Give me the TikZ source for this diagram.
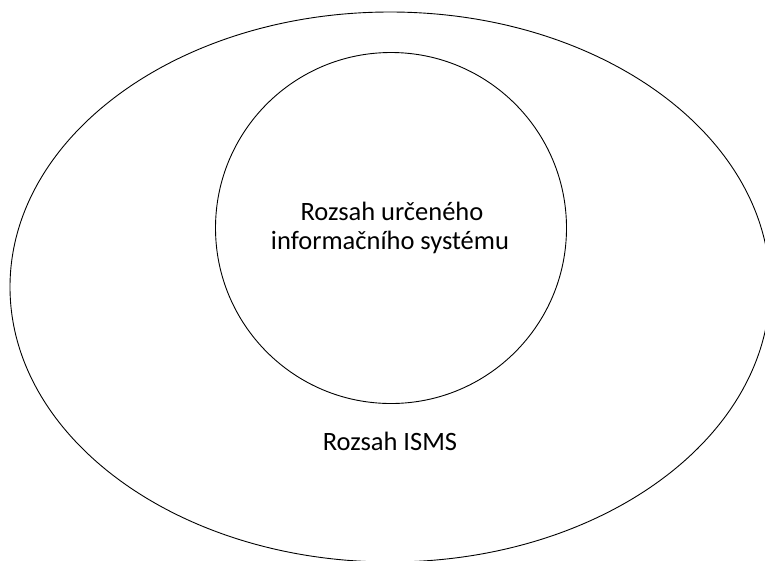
\documentclass[tikz,border=0pt]{standalone}
\usepackage{fontspec}
\setmainfont{Carlito}
\begin{document}
\begin{tikzpicture}[x=1pt,y=-1pt,
  shape line/.style={draw=black,line width=0.9pt},
  lbl/.style={font=\fontsize{26.5}{32}\selectfont,align=center,inner sep=0pt,anchor=base}]
\useasboundingbox (0,0) rectangle (765,560);
\clip (0,0) rectangle (765,560);
\fill[white] (0,0) rectangle (765,560);
\draw[shape line] (390,287) ellipse [x radius=380,y radius=275];
\draw[shape line] (391,228) circle [radius=175.5];
\node[lbl] (inner) at (392,220) {Rozsah určeného};
\node[lbl] (inner2) at (390,249) {informačního systému};
\node[lbl] (outer) at (390,450) {Rozsah ISMS};
\end{tikzpicture}
\end{document}
